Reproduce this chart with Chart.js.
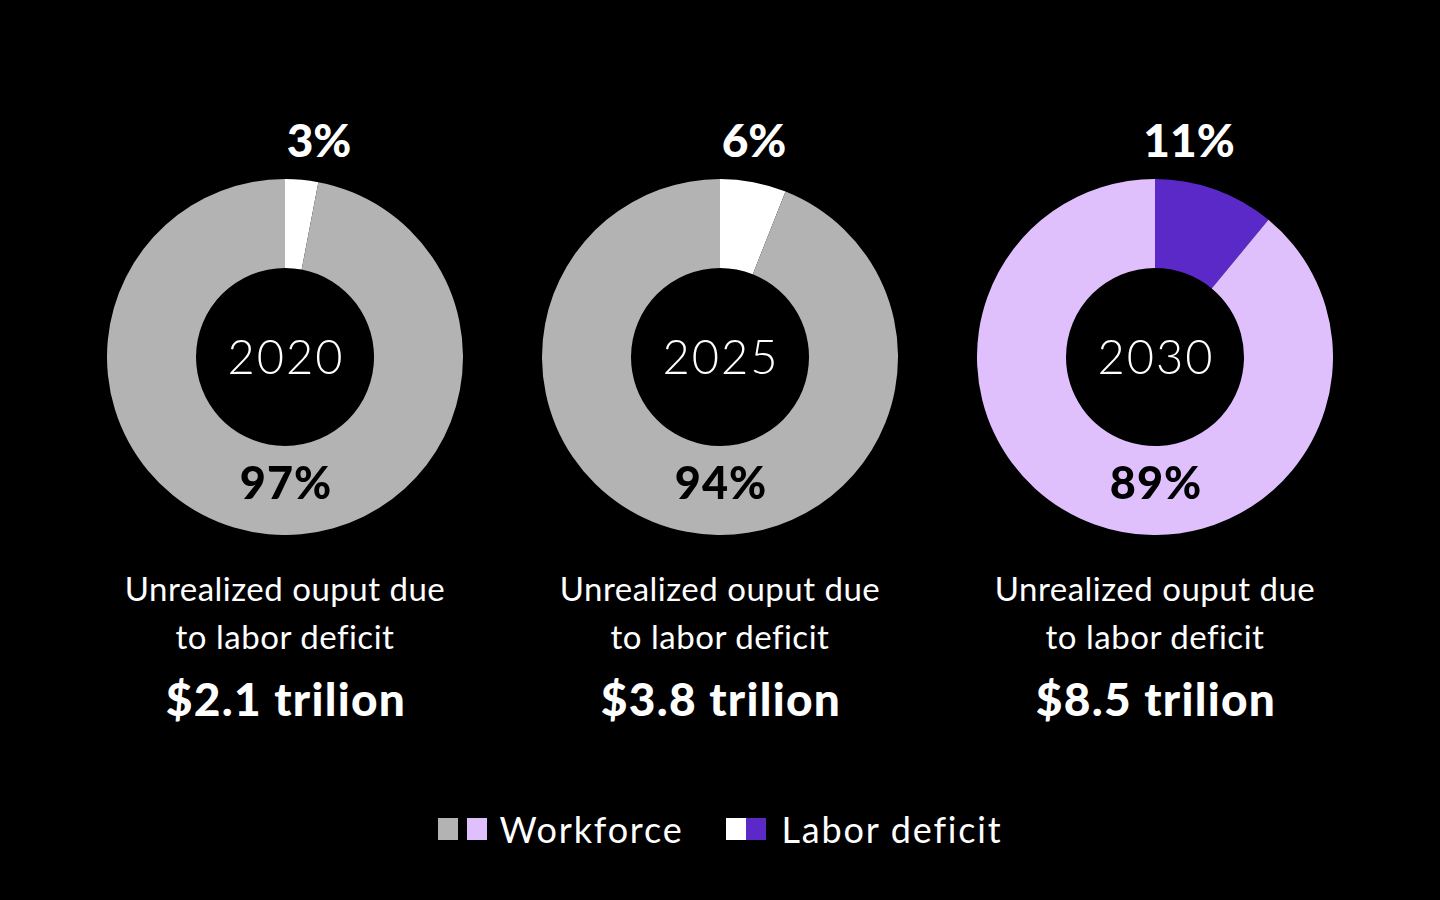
<!DOCTYPE html>
<html>
<head>
<meta charset="utf-8">
<script src="https://cdn.jsdelivr.net/npm/chart.js@4.4.0/dist/chart.umd.min.js"></script>
<style>
    html, body { margin: 0; padding: 0; background: #000; }
    body { width: 1440px; height: 900px; position: relative; overflow: hidden; font-family: Lato, "Noto Sans", sans-serif; color: #fff; }
    .dona { position: absolute; width: 356px; height: 356px; top: 179px; }
    .txt { position: absolute; text-align: center; width: 400px; white-space: nowrap; }
    .arriba { font-weight: 900; font-size: 46px; top: 112px; }
    .anio { font-weight: 300; font-size: 47px; top: 328px; letter-spacing: 2px; }
    .abajo { font-weight: 900; font-size: 45px; color: #000; top: 455px; letter-spacing: 1px; }
    .desc { font-weight: 400; font-size: 33px; line-height: 48px; top: 564px; letter-spacing: 0.5px; }
    .monto { font-weight: 900; font-size: 46px; top: 671px; letter-spacing: 1.3px; }
    #leyenda { position: absolute; top: 807px; left: 0; width: 1440px; display: flex; justify-content: center; align-items: center; font-size: 36px; font-weight: 400; letter-spacing: 1.8px; }
    .cuadro { display: inline-block; width: 20px; height: 22px; }
</style>
</head>
<body>
<div id="graficos"></div>
<div id="leyenda">
    <span class="cuadro" style="background:#b3b3b3"></span>
    <span class="cuadro" style="background:#dfc0fd; margin-left:9px"></span>
    <span style="margin-left:13px">Workforce</span>
    <span class="cuadro" style="background:#ffffff; margin-left:42px"></span>
    <span class="cuadro" style="background:#5c29c9"></span>
    <span style="margin-left:16px">Labor deficit</span>
</div>
<script>
const anios = ['2020', '2025', '2030'];
const fuerza_laboral = [97, 94, 89];
const deficit = [3, 6, 11];
const montos = ['$2.1 trilion', '$3.8 trilion', '$8.5 trilion'];
const descripcion = ['Unrealized ouput due', 'to labor deficit'];
const colores_fuerza = ['#b3b3b3', '#b3b3b3', '#dfc0fd'];
const colores_deficit = ['#ffffff', '#ffffff', '#5c29c9'];
const centros = [285, 720, 1155];

function crearTexto(clase, texto, cx, extraX) {
    const div = document.createElement('div');
    div.className = 'txt ' + clase;
    div.style.left = (cx - 200 + (extraX || 0)) + 'px';
    div.innerHTML = texto;
    document.body.appendChild(div);
}

function inicializarGraficos() {
    const contenedor = document.getElementById('graficos');
    anios.forEach((anio, i) => {
        const cx = centros[i];
        const lienzo = document.createElement('canvas');
        lienzo.className = 'dona';
        lienzo.style.left = (cx - 178) + 'px';
        contenedor.appendChild(lienzo);

        new Chart(lienzo.getContext('2d'), {
            type: 'doughnut',
            data: {
                labels: ['Labor deficit', 'Workforce'],
                datasets: [{
                    data: [deficit[i], fuerza_laboral[i]],
                    backgroundColor: [colores_deficit[i], colores_fuerza[i]],
                    borderWidth: 0
                }]
            },
            options: {
                responsive: false,
                maintainAspectRatio: false,
                animation: false,
                cutout: '50%',
                layout: { padding: 0 },
                plugins: {
                    legend: { display: false },
                    tooltip: { enabled: false }
                }
            }
        });

        crearTexto('arriba', deficit[i] + '%', cx, i === 2 ? 34 : 34);
        crearTexto('anio', anio, cx, 1);
        crearTexto('abajo', fuerza_laboral[i] + '%', cx, 1);
        crearTexto('desc', descripcion.join('<br>'), cx);
        crearTexto('monto', montos[i], cx, 1);
    });
}

window.addEventListener('DOMContentLoaded', function () {
    inicializarGraficos();
});
</script>
</body>
</html>
